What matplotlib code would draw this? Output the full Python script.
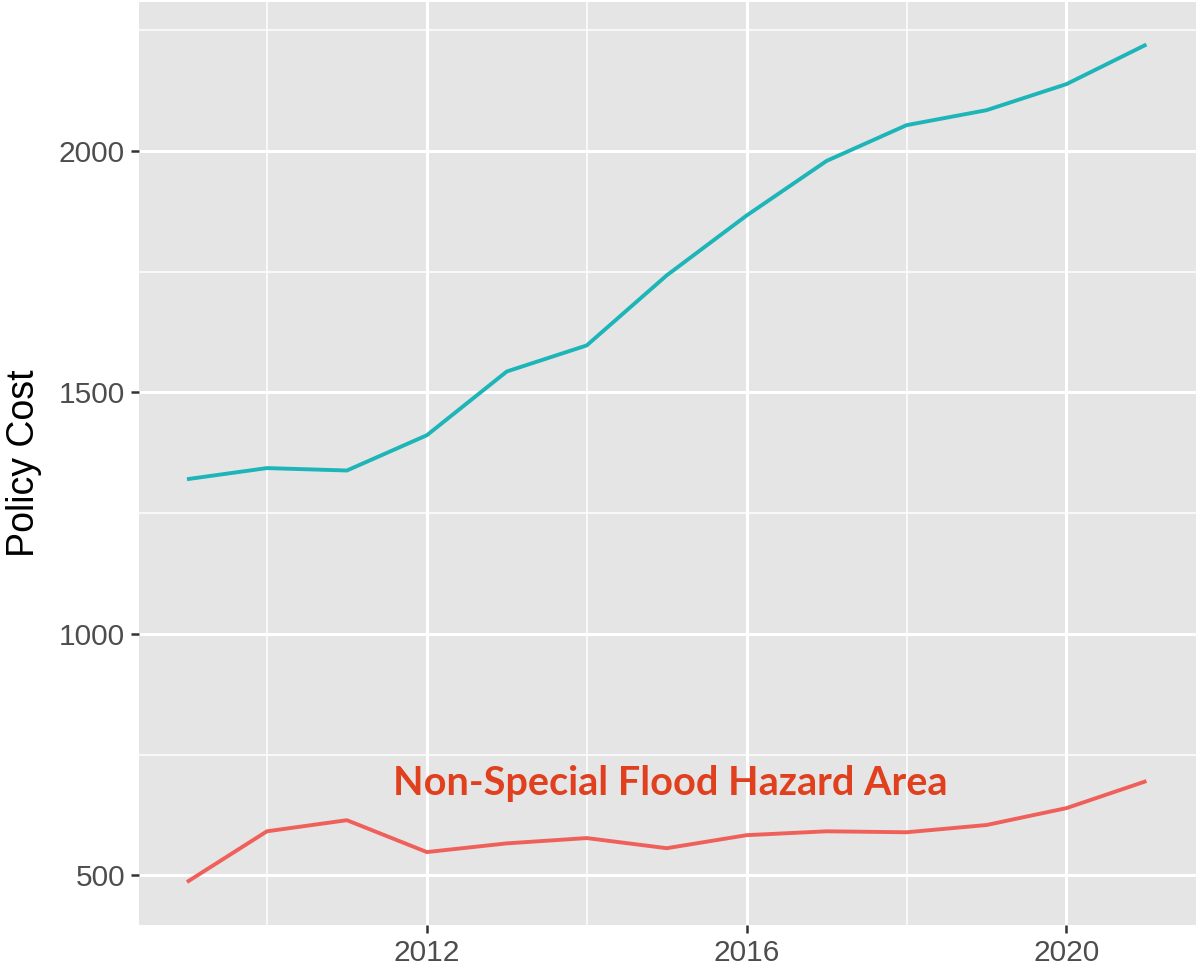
import matplotlib
matplotlib.use("Agg")
import matplotlib.pyplot as plt
from matplotlib.ticker import MultipleLocator

# === Data ===
years = [2009, 2010, 2011, 2012, 2013, 2014, 2015, 2016, 2017, 2018, 2019, 2020, 2021]
sfha_cost = [1320, 1343, 1338, 1411, 1543, 1597, 1742, 1866, 1979, 2053, 2084, 2138, 2220]
non_sfha_cost = [486, 591, 614, 548, 566, 577, 556, 583, 591, 589, 604, 639, 695]

x_ticks = [2012, 2016, 2020]
y_ticks = [500, 1000, 1500, 2000]
annotation = "Non-Special Flood Hazard Area"

# === Figure, ggplot-like look ===
fig = plt.figure(figsize=(12.04, 9.73), dpi=100)
ax = fig.add_axes([139 / 1204, 48 / 973, 1057 / 1204, 923 / 973])
ax.set_facecolor("#E5E5E5")
for s in ax.spines.values():
    s.set_visible(False)

ax.set_axisbelow(True)
ax.xaxis.set_minor_locator(MultipleLocator(2))
ax.yaxis.set_minor_locator(MultipleLocator(250))
ax.grid(which="major", color="white", linewidth=2.2)
ax.grid(which="minor", color="white", linewidth=1.1)

ax.plot(years, sfha_cost, color="#1DB5B7", linewidth=2.8, solid_capstyle="butt")
ax.plot(years, non_sfha_cost, color="#F0605B", linewidth=2.8, solid_capstyle="butt")

ax.text(2015.05, 666, annotation, color="#E0401E", fontsize=28.5,
        fontweight="bold", family=["Lato", "DejaVu Sans"], ha="center", va="baseline")

ax.set_xlim(2008.4, 2021.62)
ax.set_ylim(397, 2308)
ax.set_xticks(x_ticks)
ax.set_yticks(y_ticks)
ax.tick_params(which="major", length=6, width=1.8, color="#333333",
               labelsize=21.5, labelcolor="#4D4D4D", pad=4)
ax.tick_params(which="minor", length=0)
for lab in ax.get_xticklabels() + ax.get_yticklabels():
    lab.set_family(["Liberation Sans", "DejaVu Sans"])

ax.set_ylabel("Policy Cost", fontsize=27, family=["Liberation Sans", "DejaVu Sans"],
              labelpad=12)

fig.savefig("out.png", dpi=100)
